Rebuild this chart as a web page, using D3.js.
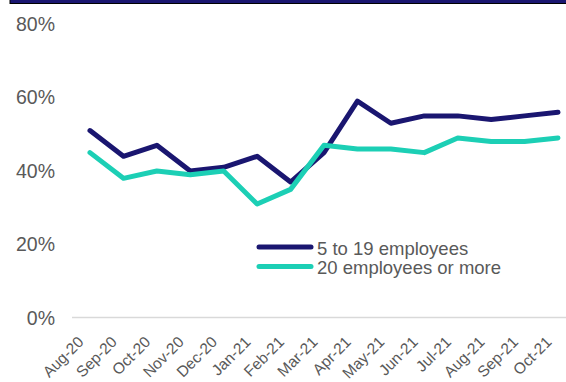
<!DOCTYPE html>
<html><head><meta charset="utf-8">
<script src="https://cdn.jsdelivr.net/npm/d3@7"></script>
<style>body{margin:0;background:#fff}svg{display:block}text{font-family:"Liberation Sans",Arial,sans-serif}</style>
</head><body>
<svg id="c" width="566" height="382"></svg>
<script>
const months = ["Aug-20","Sep-20","Oct-20","Nov-20","Dec-20","Jan-21","Feb-21","Mar-21","Apr-21","May-21","Jun-21","Jul-21","Aug-21","Sep-21","Oct-21"];
const small = [51,44,47,40,41,44,37,45,59,53,55,55,54,55,56];
const large = [45,38,40,39,40,31,35,47,46,46,45,49,48,48,49];
const yTicks = [0,20,40,60,80];
const seriesNames = ["5 to 19 employees","20 employees or more"];
const colors = ["#1a1670","#1ccfb5"];

const svg = d3.select("#c");
svg.append("rect").attr("x",10).attr("y",-2).attr("width",560).attr("height",5.5)
  .attr("fill","#1a1670").attr("stroke","#000").attr("stroke-width",1);

const x = d3.scalePoint().domain(months).range([90,558]);
const y = d3.scaleLinear().domain([0,80]).range([318,24]);

// baseline
svg.append("line").attr("x1",72).attr("x2",566).attr("y1",y(0)-0.5).attr("y2",y(0)-0.5)
  .attr("stroke","#d9d9d9").attr("stroke-width",1.3);

// y labels
const ya = svg.append("g").attr("transform","translate(55,0)")
  .call(d3.axisLeft(y).tickValues(yTicks).tickSize(0).tickPadding(0).tickFormat(d=>d+"%"));
ya.select(".domain").remove();
ya.selectAll("text").attr("font-size",19.5).attr("fill","#595959")
  .attr("font-family","Liberation Sans, Arial, sans-serif");

// x labels
const xa = svg.append("g").attr("transform",`translate(0,${y(0)})`)
  .call(d3.axisBottom(x).tickSize(0).tickPadding(0));
xa.select(".domain").remove();
xa.selectAll("text").attr("font-size",15.5).attr("fill","#595959")
  .attr("font-family","Liberation Sans, Arial, sans-serif")
  .attr("text-anchor","end").attr("dy",null)
  .attr("transform","translate(-6,25) rotate(-45)");

const line = d3.line().x((d,i)=>x(months[i])).y(d=>y(d));
[small,large].forEach((s,k)=>{
  svg.append("path").datum(s).attr("d",line).attr("fill","none")
    .attr("stroke",colors[k]).attr("stroke-width",5).attr("stroke-linejoin","round").attr("stroke-linecap","round");
});

// legend
seriesNames.forEach((n,k)=>{
  const ly = 247 + k*19.5;
  svg.append("line").attr("x1",259).attr("x2",311).attr("y1",ly).attr("y2",ly)
    .attr("stroke",colors[k]).attr("stroke-width",5).attr("stroke-linecap","round");
  svg.append("text").attr("x",317).attr("y",ly+7.5).attr("font-size",18.5)
    .attr("fill","#595959").text(n);
});
</script>
</body></html>
